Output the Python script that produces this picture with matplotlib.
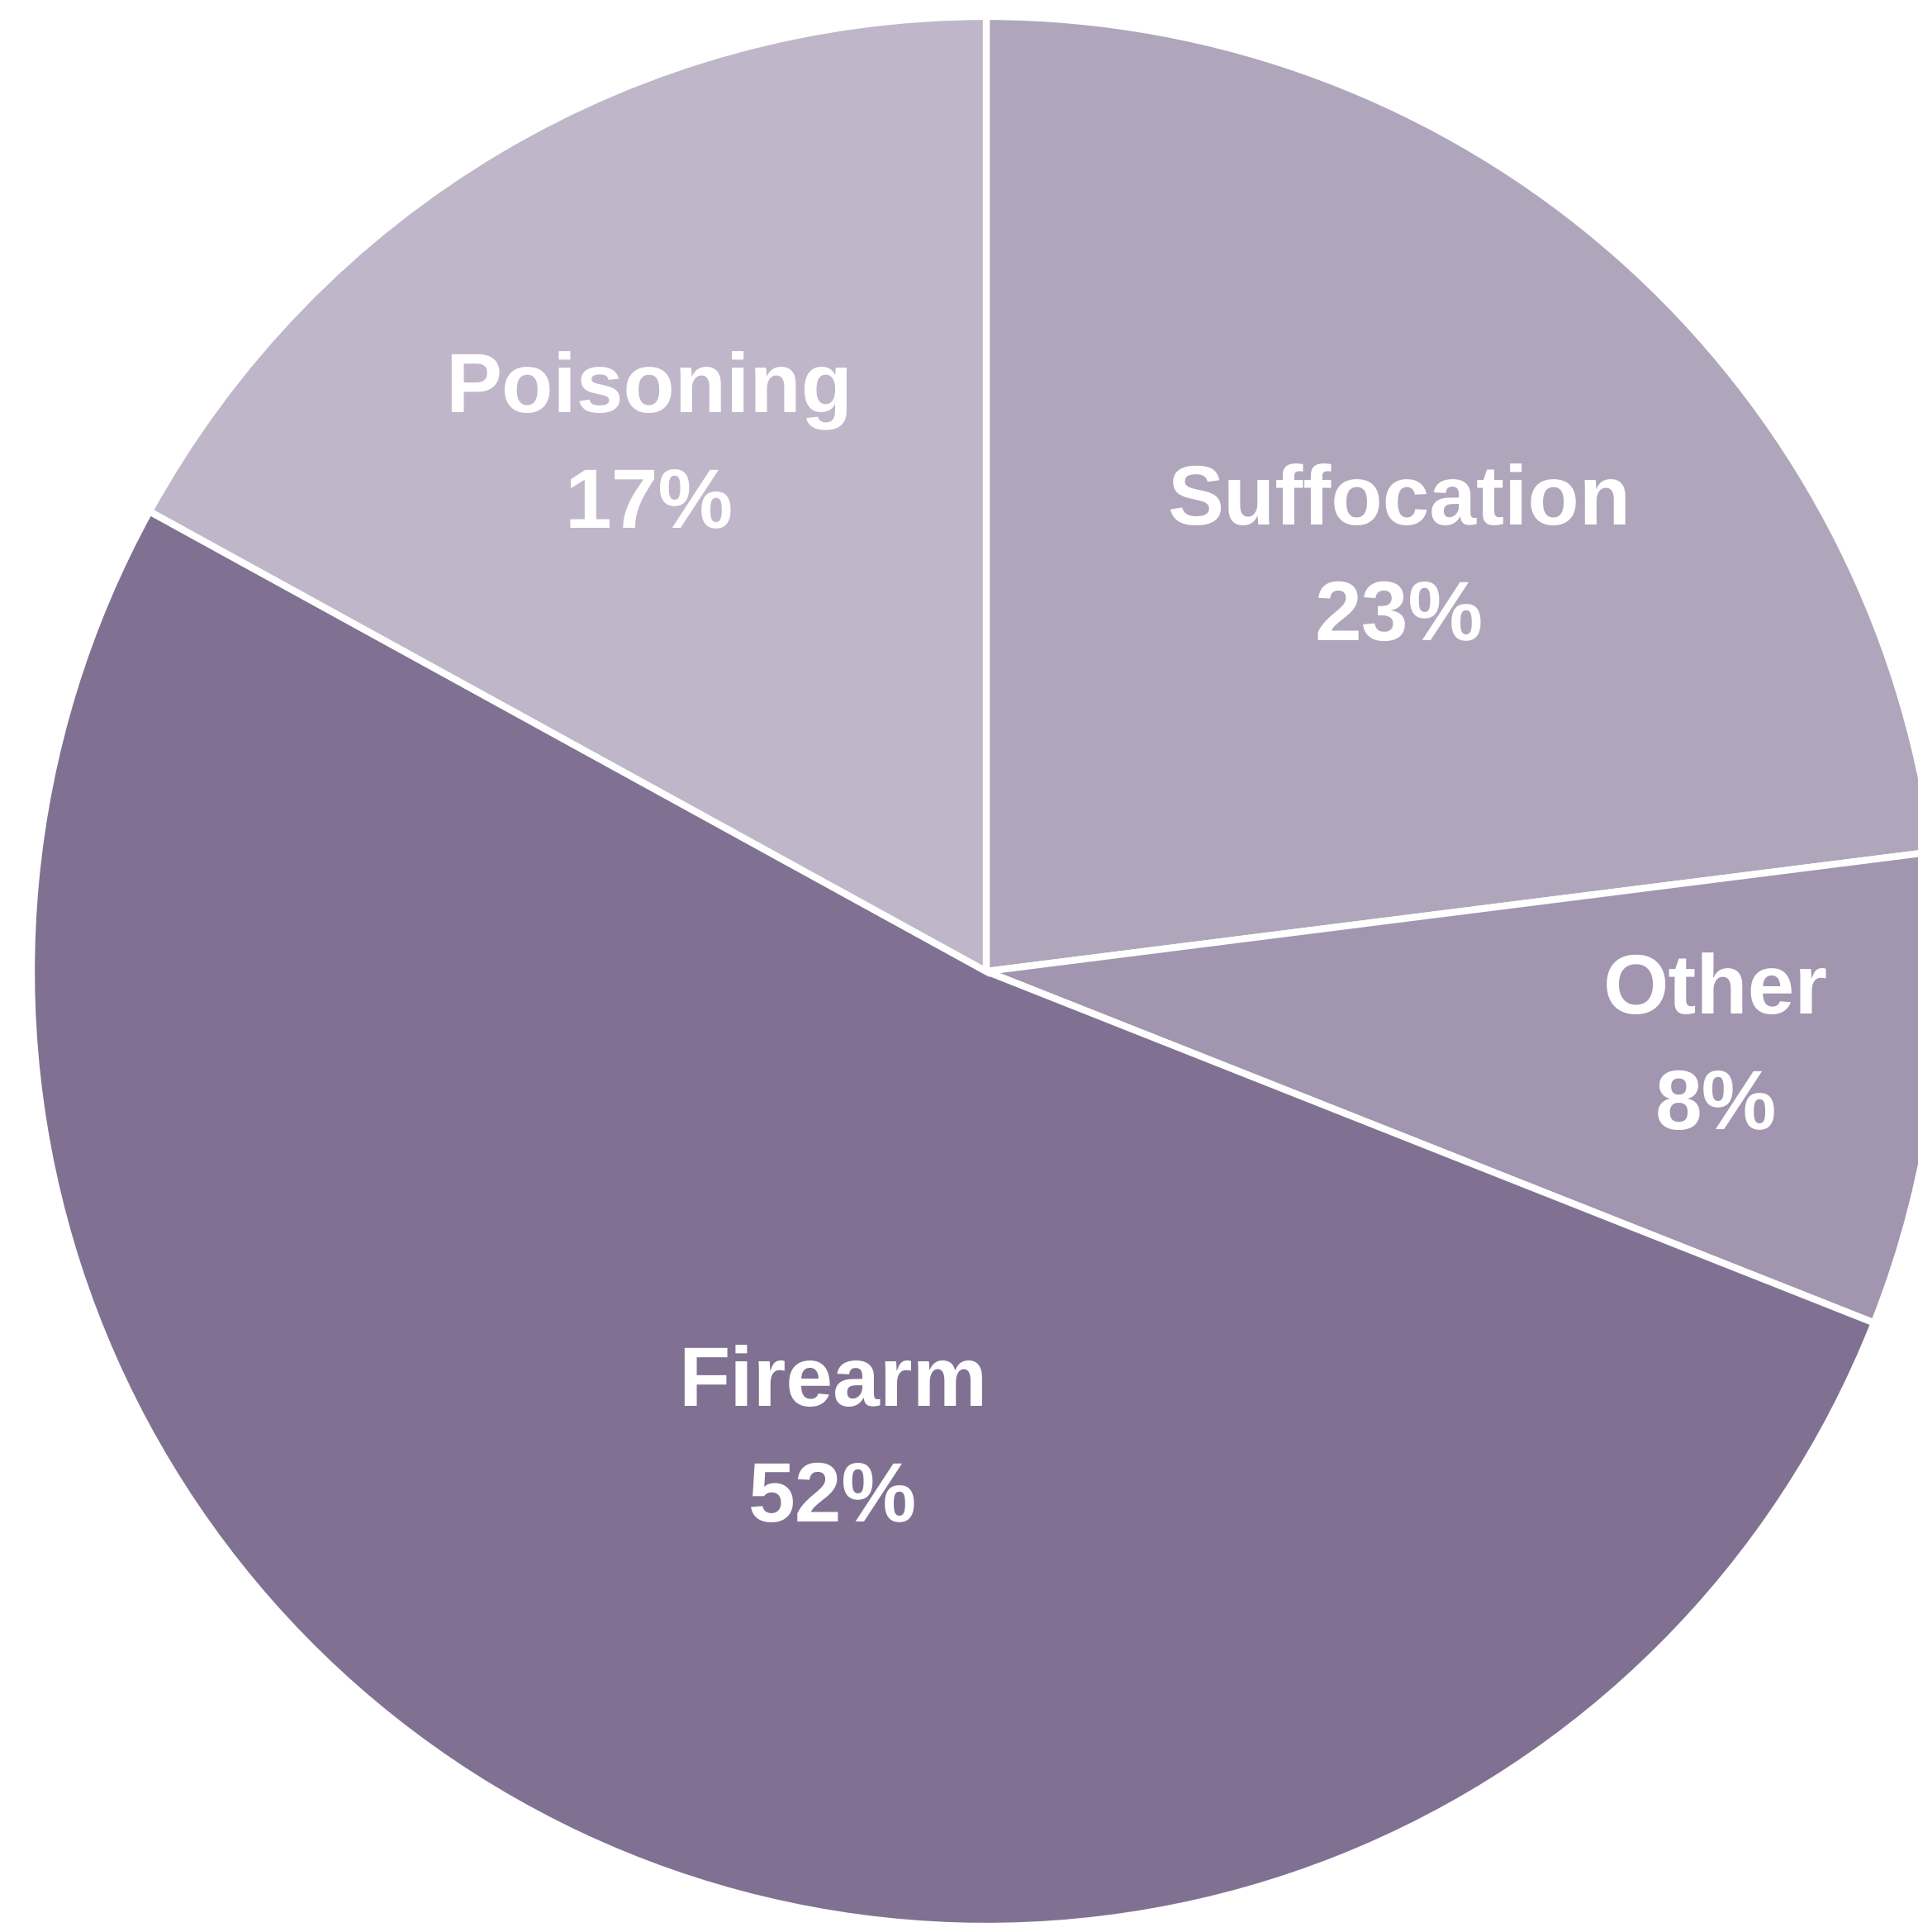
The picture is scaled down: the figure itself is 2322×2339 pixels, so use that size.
import matplotlib.pyplot as plt

plt.rcParams["text.hinting"] = "no_hinting"
plt.rcParams["text.hinting_factor"] = 1

# Share of cases by method
categories = ["Suffocation", "Other", "Firearm", "Poisoning"]
shares = [23, 8, 52, 17]
colors = ["#afa6bc", "#a295af", "#807193", "#bfb6ca"]

# where each name sits (pie units, baseline of the name line)
label_xy = [(0.4325, 0.468), (0.764, -0.044), (-0.161, -0.455), (-0.353, 0.585)]
line_gap = 0.121

W, H = 2322, 2339
cx, cy, R = 1194, 1176, 1156   # centre and radius in pixels

fig = plt.figure(figsize=(W / 100, H / 100), dpi=100)
ax = fig.add_axes([0, 0, 1, 1])

ax.pie(shares, colors=colors, startangle=90, counterclock=False,
       wedgeprops=dict(edgecolor="white", linewidth=6))

# right and bottom of the pie run off the edge of the figure
ax.set_xlim(-cx / R, (W - cx) / R)
ax.set_ylim(-(H - cy) / R, cy / R)
ax.set_aspect("equal", adjustable="datalim")
ax.axis("off")

font = dict(family="Liberation Sans", weight="bold", color="white",
            fontsize=73.5, ha="center", va="baseline")
for name, val, (x, y) in zip(categories, shares, label_xy):
    ax.text(x, y, name, **font)
    ax.text(x, y - line_gap, f"{val}%", **font)

fig.savefig("out.png", dpi=100, facecolor="white")
